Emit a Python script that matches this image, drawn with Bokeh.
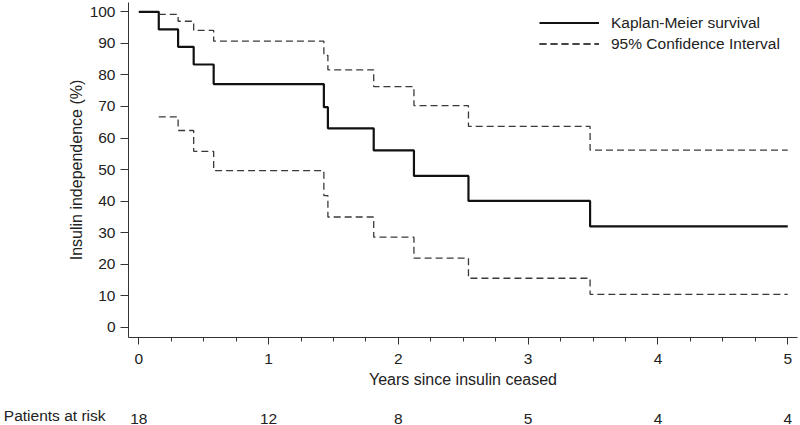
from bokeh.plotting import figure
from bokeh.models import Range1d, FixedTicker, Legend, LegendItem, ColumnDataSource
from bokeh.layouts import column
from bokeh.core.properties import value
from bokeh.embed import file_html
from bokeh.resources import INLINE

# ---- data ----
km_t = [0, 0.154, 0.303, 0.423, 0.577, 1.426, 1.457, 1.81, 2.12, 2.54, 3.477, 5.0]
km_s = [100, 94.4, 88.9, 83.3, 77.1, 69.8, 63.1, 56.1, 48.0, 40.1, 32.0, 32.0]

ci_t = [0.154, 0.303, 0.423, 0.577, 1.426, 1.457, 1.81, 2.12, 2.54, 3.477, 5.0]
ci_upper = [99.2, 97.0, 94.1, 90.7, 86.2, 81.6, 76.3, 70.3, 63.7, 56.2, 56.2]
ci_lower = [66.7, 62.4, 55.8, 49.7, 41.8, 35.0, 28.6, 22.0, 15.6, 10.5, 10.5]

risk_title = "Patients at risk"
risk_years = [0, 1, 2, 3, 4, 5]
risk_counts = ["18", "12", "8", "5", "4", "4"]

x_ticks = [0, 1, 2, 3, 4, 5]
x_minor = [0.25, 0.5, 0.75, 1.25, 1.5, 1.75, 2.25, 2.5, 2.75, 3.25, 3.5, 3.75,
           4.25, 4.5, 4.75]
y_ticks = [0, 10, 20, 30, 40, 50, 60, 70, 80, 90, 100]

FONT = "Liberation Sans"
FS = "15.5px"
TXT = "#222222"
AX = "#333333"

# ---- main plot ----
p = figure(width=800, height=400, output_backend="svg", toolbar_location=None,
           x_range=Range1d(-0.0792, 5.075), y_range=Range1d(-3.17, 102.94),
           min_border_left=127, min_border_right=3, min_border_top=2,
           min_border_bottom=63)
p.outline_line_color = None
p.grid.grid_line_color = None

km = p.step(km_t, km_s, mode="after", line_color="#111111", line_width=2.2)
up = p.step(ci_t, ci_upper, mode="after", line_color="#3a3a3a", line_width=1.3,
            line_dash="7 4")
lo = p.step(ci_t, ci_lower, mode="after", line_color="#3a3a3a", line_width=1.3,
            line_dash="7 4")

xa = p.xaxis[0]
xa.ticker = FixedTicker(ticks=x_ticks, minor_ticks=x_minor)
xa.axis_label = "Years since insulin ceased"
ya = p.yaxis[0]
ya.ticker = FixedTicker(ticks=y_ticks, minor_ticks=[])
ya.axis_label = "Insulin independence (%)"
for ax in (xa, ya):
    ax.axis_line_color = AX
    ax.major_tick_line_color = AX
    ax.minor_tick_line_color = AX
    ax.major_tick_in = 0
    ax.major_tick_out = 7
    ax.minor_tick_in = 0
    ax.minor_tick_out = 4
    ax.major_label_text_font = FONT
    ax.major_label_text_font_size = FS
    ax.major_label_text_color = TXT
    ax.axis_label_text_font = FONT
    ax.axis_label_text_font_size = "16px"
    ax.axis_label_text_font_style = "normal"
    ax.axis_label_text_color = TXT
ya.major_tick_out = 8
ya.major_label_standoff = 5
ya.axis_label_standoff = 2
xa.major_label_standoff = 9
xa.axis_label_standoff = 4

legend = Legend(items=[LegendItem(label="Kaplan-Meier survival", renderers=[km]),
                       LegendItem(label="95% Confidence Interval", renderers=[up, lo])],
                location=(411, 283))
legend.border_line_color = None
legend.background_fill_alpha = 0
legend.padding = 0
legend.margin = 0
legend.spacing = 0
legend.glyph_width = 60
legend.glyph_height = 21
legend.label_height = 21
legend.label_standoff = 12
legend.label_text_font = FONT
legend.label_text_font_size = FS
legend.label_text_color = TXT
p.add_layout(legend, "center")

# ---- patients-at-risk row (shares the x scale of the main plot) ----
r = figure(width=800, height=25, output_backend="svg", toolbar_location=None,
           x_range=p.x_range, y_range=Range1d(0, 25),
           min_border_left=127, min_border_right=3, min_border_top=0,
           min_border_bottom=0, x_axis_type=None)
r.outline_line_color = None
r.grid.grid_line_color = None
ra = r.yaxis[0]
ra.ticker = FixedTicker(ticks=[7], minor_ticks=[])
ra.major_label_overrides = {7: risk_title}
ra.axis_line_color = None
ra.major_tick_line_color = None
ra.minor_tick_line_color = None
ra.major_tick_out = 0
ra.major_tick_in = 0
ra.major_label_standoff = 23
ra.major_label_text_font = FONT
ra.major_label_text_font_size = FS
ra.major_label_text_color = TXT
src = ColumnDataSource(dict(x=risk_years, y=[7.0] * len(risk_years), t=risk_counts))
r.text(x="x", y="y", text="t", source=src, text_align="center",
       text_baseline="middle", text_font=value(FONT), text_font_size=value(FS),
       text_color=TXT)

layout = column(p, r, spacing=0)
open("out.html", "w").write(file_html(layout, INLINE))
